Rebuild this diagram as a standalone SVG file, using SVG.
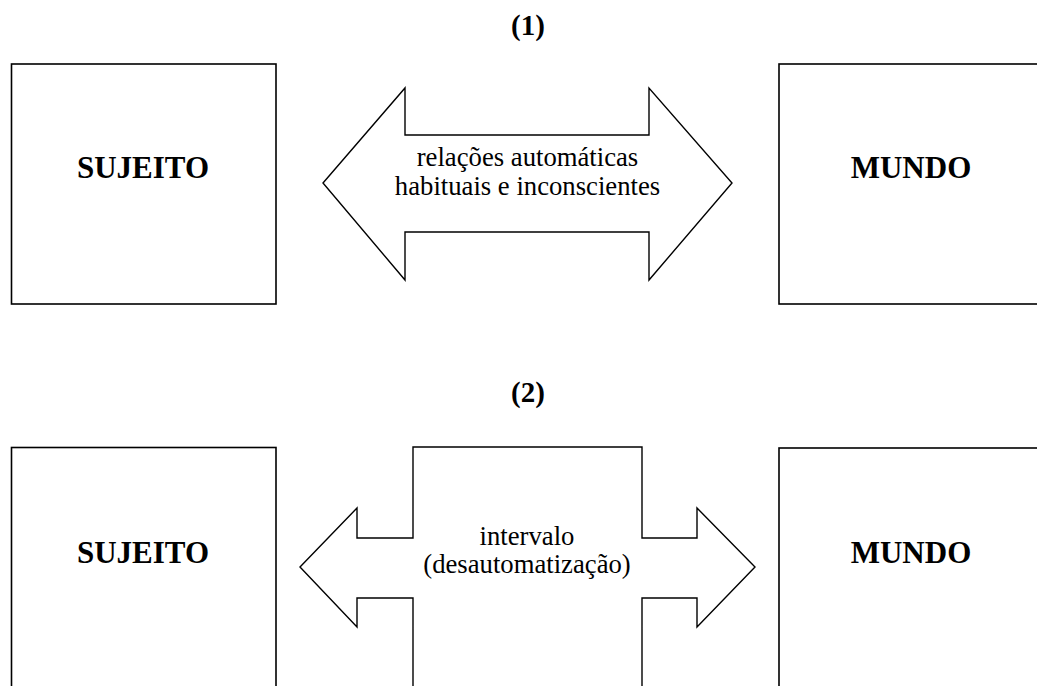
<svg xmlns="http://www.w3.org/2000/svg" width="1037" height="686" viewBox="0 0 1037 686">
<style>
.box{fill:#fff;stroke:#000;stroke-width:1.6}
.arr{fill:#fff;stroke:#000;stroke-width:1.4;stroke-linejoin:miter}
.lbl{font-family:"Liberation Serif","Times New Roman",serif;font-weight:bold;font-size:31px;text-anchor:middle;fill:#000}
.ttl{font-family:"Liberation Serif","Times New Roman",serif;font-weight:bold;font-size:29px;text-anchor:middle;fill:#000}
.txt{font-family:"Liberation Serif","Times New Roman",serif;font-size:26.7px;text-anchor:middle;fill:#000}
</style>
<rect width="1037" height="686" fill="#fff"/>
<text class="ttl" x="528" y="35">(1)</text>
<text class="ttl" x="528" y="402">(2)</text>
<g id="sujeito1"><rect class="box" x="11.5" y="64" width="264.5" height="240"/><text class="lbl" x="143" y="178">SUJEITO</text></g>
<g id="mundo1"><rect class="box" x="779" y="64" width="270" height="240"/><text class="lbl" x="911" y="178">MUNDO</text></g>
<g id="sujeito2"><rect class="box" x="11.5" y="447.5" width="264.5" height="260"/><text class="lbl" x="143" y="563">SUJEITO</text></g>
<g id="mundo2"><rect class="box" x="779" y="448" width="270" height="260"/><text class="lbl" x="911" y="563">MUNDO</text></g>
<g id="connectors">
<g id="arrow1"><polygon class="arr" points="323,183 405,88 405,135 649,135 649,88 732,183 649,280 649,232 405,232 405,280"/>
<text class="txt" x="527.5" y="166">relações automáticas</text>
<text class="txt" x="527.5" y="195">habituais e inconscientes</text></g>
<g id="arrow2"><polygon class="arr" points="300,567 357,508 357,538 413,538 413,447 642,447 642,538 697,538 697,508 755,567 697,627 697,598 642,598 642,700 413,700 413,598 357,598 357,627"/>
<text class="txt" x="527" y="545">intervalo</text>
<text class="txt" x="527" y="573">(desautomatização)</text></g>
</g>
</svg>
